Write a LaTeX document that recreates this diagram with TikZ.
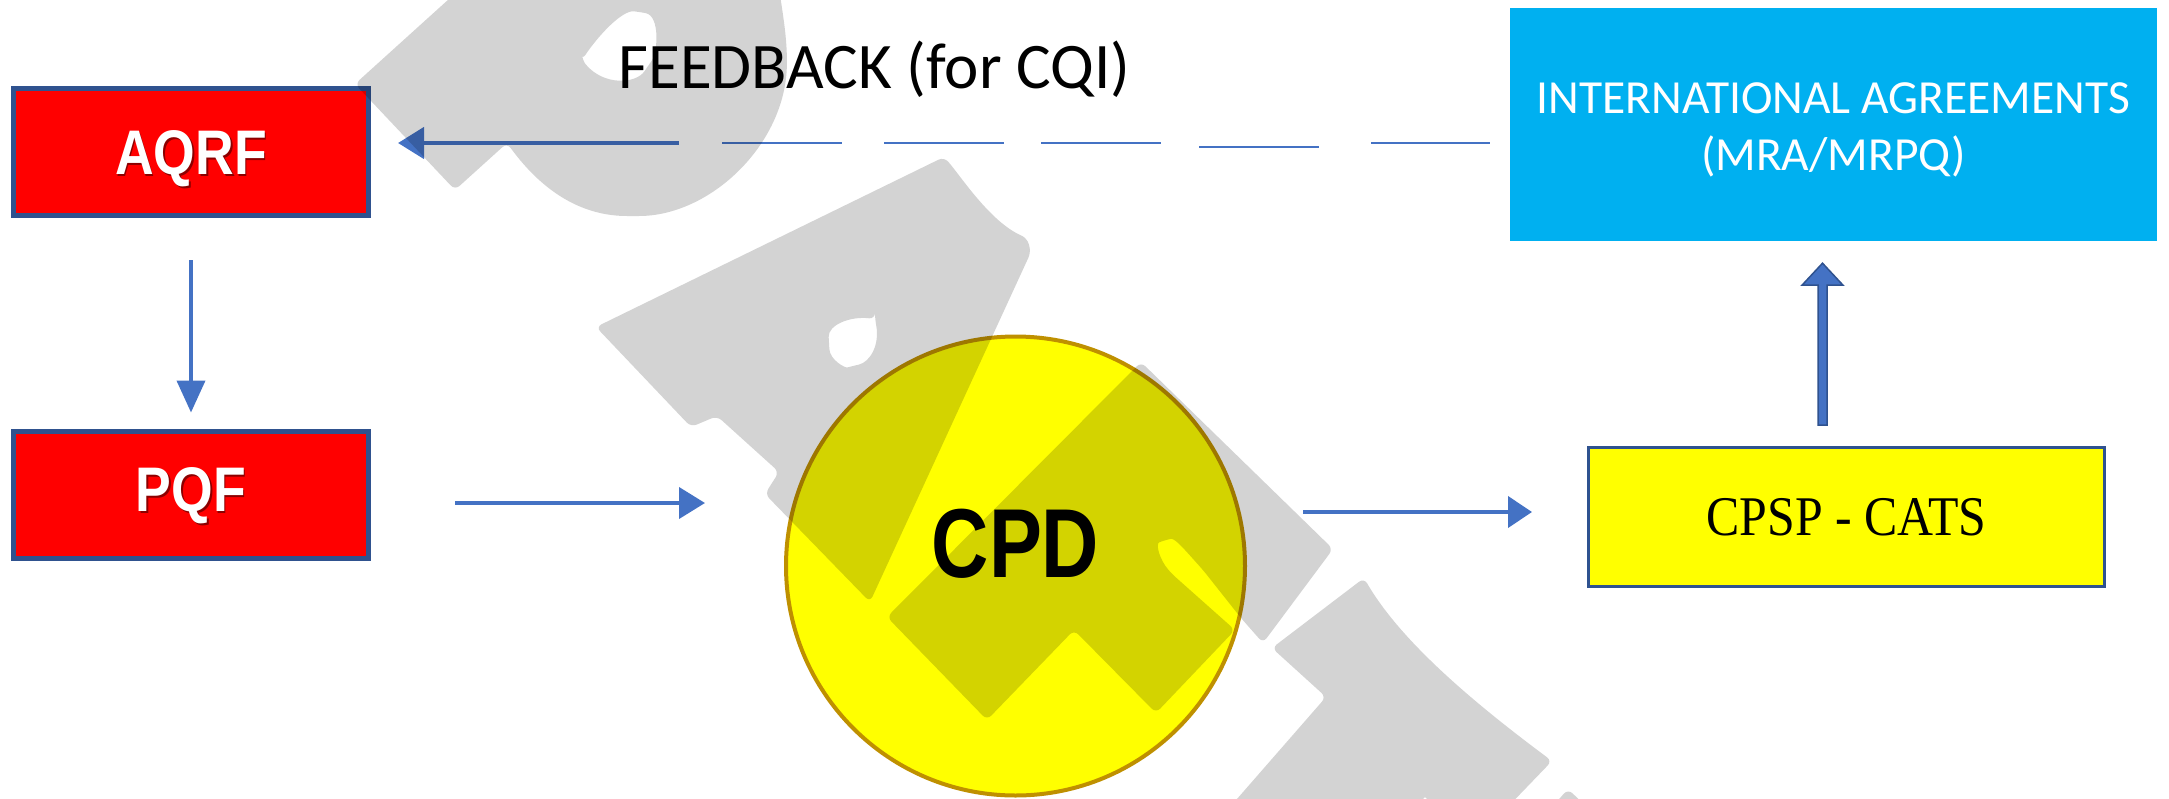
\documentclass[tikz,border=0pt]{standalone}
\usepackage{fontspec}
\usepackage{graphicx}
\setmainfont{Liberation Sans}
\newfontfamily\calibrifont{Carlito}
\newfontfamily\cambriafont{Liberation Serif}
\usetikzlibrary{arrows.meta,calc}

\definecolor{boxred}{HTML}{FF0000}
\definecolor{frameblue}{HTML}{2F528F}
\definecolor{linkblue}{HTML}{4472C4}
\definecolor{cpdyellow}{HTML}{FFFF00}
\definecolor{cpdrim}{HTML}{BF9000}
\definecolor{agreecyan}{HTML}{00B0F0}
\definecolor{wmgray}{HTML}{D3D3D3}
\definecolor{lblshade}{HTML}{8C0000}

% white label with a small dark drop shadow
\newcommand{\shadowlbl}[1]{\makebox[0pt][l]{\kern1.8pt\raisebox{-1.8pt}{\textcolor{lblshade}{#1}}}#1}

\begin{document}
\begin{tikzpicture}[x=1pt,y=-1pt,
  redbox/.style={draw=frameblue, line width=5pt, fill=boxred,
    minimum width=355pt, minimum height=127pt, inner sep=0pt, text=white,
    font=\fontsize{63}{70}\selectfont\bfseries, text height=45pt, text depth=0pt},
  cpdnode/.style={circle, draw=cpdrim, line width=4pt, fill=cpdyellow,
    minimum size=459pt, inner sep=0pt,
    font=\fontsize{98}{110}\selectfont\bfseries, text height=70pt, text depth=0pt},
  cpspbox/.style={draw=frameblue, line width=3pt, fill=cpdyellow,
    minimum width=516pt, minimum height=139pt, inner sep=0pt,
    font=\cambriafont\fontsize{56}{64}\selectfont, text height=37pt, text depth=0pt},
  agreebox/.style={fill=agreecyan, minimum width=647pt, minimum height=233pt,
    inner sep=0pt, text=white, font=\calibrifont\fontsize{47.5}{57}\selectfont,
    text height=30pt, text depth=53pt},
  fbtext/.style={font=\calibrifont\fontsize{65}{78}\selectfont, inner sep=0pt},
  conn/.style={draw=linkblue, line width=4pt},
  fbthin/.style={draw=linkblue, line width=2.5pt},
  blockarrow/.style={draw=frameblue, line width=1.5pt, fill=linkblue, line join=miter},
  wm/.style={fill=wmgray, rounded corners=6pt}
]
\useasboundingbox (0,0) rectangle (2169,798);

% boxes
\node[redbox] (aqrf) at (191,152) {\scalebox{0.85}[1]{\shadowlbl{AQRF}}};
\node[redbox] (pqf) at (191,494.5) {\raisebox{5.5pt}{\scalebox{0.85}[1]{\shadowlbl{PQF}}}};
\node[cpdnode] (cpd) at (1015.5,566) {\raisebox{24pt}{\scalebox{0.81}[1]{CPD}}};
\node[cpspbox] (cpsp) at (1846.5,517) {\scalebox{0.89}[1]{CPSP - CATS}};
\node[agreebox] (intl) at (1833.5,124.5)
  {\begin{tabular}[t]{@{}c@{}}INTERNATIONAL AGREEMENTS\\(MRA/MRPQ)\end{tabular}};
\node[fbtext, anchor=base] (fblabel) at (874.5,88) {FEEDBACK (for CQI)};

% connectors
\draw[conn, -{Triangle[length=32pt,width=28pt]}]
  ($(aqrf.south)+(0,42)$) -- ($(pqf.north)+(0,-16)$);
\draw[conn, -{Triangle[length=26pt,width=31pt]}]
  ($(pqf.east)+(84,8.5)$) -- ($(cpd.west)+(-79,-63)$);
\draw[conn, -{Triangle[length=24pt,width=31pt]}]
  ($(cpd.east)+(56,-54)$) -- ($(cpsp.west)+(-55,-5)$);

% block arrow from CPSP - CATS up to the agreements box
\coordinate (bbase) at ($(cpsp.north)+(-24,-21)$);
\coordinate (btip) at ($(intl.south)+(-11,22)$);
\draw[blockarrow] ($(bbase)+(-4.5,0)$) -- ($(btip)+(-4.5,22)$) -- ($(btip)+(-20.5,22)$)
  -- (btip) -- ($(btip)+(20.5,22)$) -- ($(btip)+(4.5,22)$) -- ($(bbase)+(4.5,0)$) -- cycle;

% feedback loop back to AQRF: loose dashes, then a heavy arrow
\coordinate (fbfar) at ($(intl.west)+(-20,18.5)$);
\draw[fbthin] (fbfar) -- ++(-119,0) ++(-52,4) -- ++(-120,0) ++(-38,-4) -- ++(-120,0)
  ++(-37,0) -- ++(-120,0) ++(-42,0) -- ++(-120,0);
\draw[draw=linkblue, line width=4.5pt, -{Triangle[length=26pt,width=31pt]}]
  ($(aqrf.east)+(308,-9)$) -- ($(aqrf.east)+(27,-9)$);

% watermark emblem, multiplied over the diagram
\begin{scope}[blend mode=multiply]
  \fill[wm, even odd rule]
    (470,-20) -- (355,84) -- (455,190) -- (507,143)
    .. controls (545,195) and (585,216) .. (633,216)
    .. controls (710,216) and (785,145) .. (787,60)
    .. controls (786,30) and (782,10) .. (778,-20) -- cycle
    (582,60) .. controls (598,36) and (622,10) .. (640,12)
    .. controls (660,16) and (658,52) .. (648,66)
    .. controls (636,84) and (604,86) .. (582,60) -- cycle;
  \fill[wm, even odd rule]
    (596,327) -- (944,157) .. controls (960,175) and (990,222) .. (1027,238)
    -- (1031,252) -- (870,602) -- (765,494) -- (779,472) -- (717,416) -- (691,427) -- cycle
    (875,319) .. controls (850,316) and (828,325) .. (829,343)
    .. controls (830,360) and (845,368) .. (853,366)
    .. controls (870,362) and (880,345) .. (875,319) -- cycle;
  \fill[wm]
    (1141,362) -- (1333,549) -- (1263,643) -- (1241,618) -- (1203,570)
    .. controls (1185,550) and (1175,538) .. (1165,540)
    .. controls (1155,544) and (1160,560) .. (1172,574)
    -- (1235,630) -- (1156,713) -- (1074,630) -- (987,720) -- (887,617) -- cycle;
  \fill[wm]
    (1223,815) -- (1326,697) -- (1272,648) -- (1364,578)
    .. controls (1400,640) and (1470,700) .. (1552,761)
    -- (1500,815) -- (1433,815) -- (1425,794) -- (1417,815) -- cycle;
  \fill[wm] (1545,815) -- (1568,789) -- (1595,815) -- cycle;
\end{scope}
\end{tikzpicture}
\end{document}
